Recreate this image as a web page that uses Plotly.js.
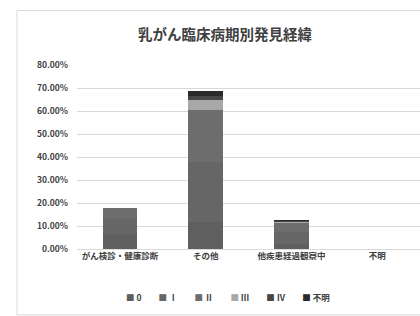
<!DOCTYPE html>
<html><head><meta charset="utf-8">
<script src="https://cdn.plot.ly/plotly-3.0.1.min.js"></script>
<style>html,body{margin:0;padding:0;background:#fff;}#chart{width:420px;height:316px;}</style>
</head><body><div id="chart"></div>
<script>
const categories = ["がん検診・健康診断", "その他", "他疾患経過観察中", "不明"];
const stages = ["0", "Ⅰ", "Ⅱ", "Ⅲ", "Ⅳ", "不明"];
const stage0 = [0.060, 0.118, 0.020, 0];
const stage1 = [0.070, 0.260, 0.055, 0];
const stage2 = [0.047, 0.226, 0.037, 0];
const stage3 = [0.000, 0.043, 0.004, 0];
const stage4 = [0.000, 0.020, 0.004, 0];
const stageU = [0.000, 0.020, 0.004, 0];
const tickVals = [0, 0.1, 0.2, 0.3, 0.4, 0.5, 0.6, 0.7, 0.8];
const tickText = ["0.00%", "10.00%", "20.00%", "30.00%", "40.00%", "50.00%", "60.00%", "70.00%", "80.00%"];

const series = [stage0, stage1, stage2, stage3, stage4, stageU];
const colors = ["#5f5f5f", "#666666", "#6d6d6d", "#a8a8a8", "#474747", "#2a2a2a"];
const traces = series.map((vals, i) => ({
  type: "bar", x: categories, y: vals, name: stages[i],
  marker: {color: colors[i]}, width: 0.4
}));
const font = "'Noto Sans CJK JP', 'Noto Sans', sans-serif";
const legendText = stages.map((s, i) =>
  "<span style='color:" + colors[i] + "'>■</span> " + s).join("　　");
const layout = {
  width: 420, height: 316, barmode: "stack",
  margin: {l: 77, r: 0, t: 65, b: 67},
  paper_bgcolor: "#fff", plot_bgcolor: "#fff",
  font: {family: font, color: "#404040", size: 8},
  title: {text: "<b>乳がん臨床病期別発見経緯</b>", x: 0.536, xanchor: "center", y: 0.89, yanchor: "middle",
          font: {family: font, size: 14.5, color: "#404040"}},
  xaxis: {type: "category", showgrid: false, zeroline: false, showline: false,
          tickvals: categories, ticktext: categories.map(c => "<b>" + c + "</b>"),
          ticks: "", tickfont: {size: 8.5, color: "#404040", family: font}, fixedrange: true},
  yaxis: {range: [0, 0.8], tickvals: tickVals, ticktext: tickText.map(t => "<b>" + t + "</b>"), showgrid: true,
          gridcolor: "#d9d9d9", gridwidth: 1, zeroline: true, zerolinecolor: "#d9d9d9",
          showline: false, ticks: "", ticklabelstandoff: 8,
          tickfont: {size: 8.5, color: "#404040", family: font}, fixedrange: true},
  showlegend: false,
  annotations: [{xref: "paper", yref: "paper", x: 0.44, y: -0.26, xanchor: "center", yanchor: "middle",
                 showarrow: false, text: "<b>" + legendText + "</b>",
                 font: {size: 8.5, color: "#404040", family: font}}],
  shapes: [{type: "rect", xref: "paper", yref: "paper", x0: -0.175, x1: 1.2, y0: -0.358, y1: 1.296,
            line: {color: "#d9d9d9", width: 1}, fillcolor: "rgba(0,0,0,0)", layer: "below"}]
};
Plotly.newPlot("chart", traces, layout, {displayModeBar: false, staticPlot: true});
</script></body></html>
